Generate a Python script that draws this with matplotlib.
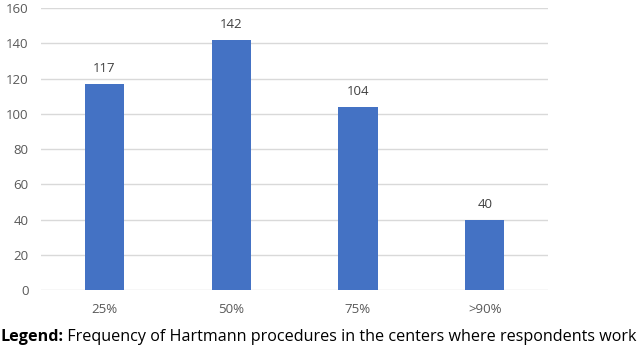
import matplotlib.pyplot as plt

# data
categories = ["25%", "50%", "75%", ">90%"]
counts = [117, 142, 104, 40]
y_ticks = [0, 20, 40, 60, 80, 100, 120, 140, 160]

plt.rcParams["font.family"] = ["Open Sans", "DejaVu Sans"]

fig = plt.figure(figsize=(6.44, 3.49), dpi=100)
ax = fig.add_axes([0.064, 0.169, 0.787, 0.808])

x = range(len(categories))
bars = ax.bar(x, counts, width=0.31, color="#4472C4", zorder=3)

for b, v in zip(bars, counts):
    ax.text(b.get_x() + b.get_width() / 2, v + 5, str(v),
            ha="center", va="bottom", fontsize=9.5, color="#404040")

ax.set_xlim(-0.5, len(categories) - 0.5)
ax.set_ylim(0, 160)
ax.set_yticks(y_ticks)
ax.set_xticks(list(x))
ax.set_xticklabels(categories)
ax.tick_params(axis="both", length=0, labelsize=9.5, colors="#595959")
ax.tick_params(axis="y", pad=9)
ax.tick_params(axis="x", pad=9)

ax.grid(axis="y", color="#d9d9d9", linewidth=1, zorder=0)
for s in ax.spines.values():
    s.set_visible(False)

# caption: bold "Legend:" followed by normal text
cap_y = 0.034
t1 = fig.text(0.0, cap_y, "Legend:", fontsize=11.6, fontweight="bold", ha="left", va="center")
fig.canvas.draw()
bb = t1.get_window_extent()
fig.text(bb.x1 / fig.bbox.width, cap_y, " Frequency of Hartmann procedures in the centers where respondents work",
         fontsize=11.6, ha="left", va="center")

fig.savefig("out.png", dpi=100)
